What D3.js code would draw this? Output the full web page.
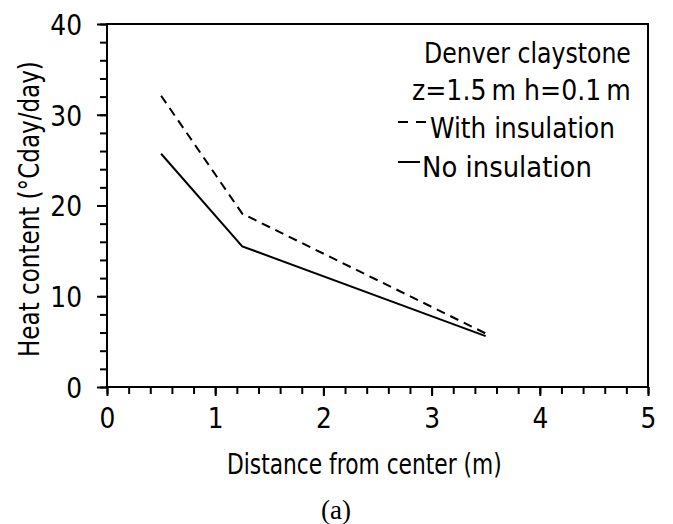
<!DOCTYPE html>
<html>
<head>
<meta charset="utf-8">
<script src="https://cdn.jsdelivr.net/npm/d3@7"></script>
<style>
  html, body { margin: 0; padding: 0; background: #fff; }
  svg text { font-family: "DejaVu Sans", sans-serif; fill: #000; }
  svg text.caption { font-family: "Liberation Serif", "Times New Roman", serif; }
</style>
</head>
<body>
<div id="chart"></div>
<script>
// x positions (m) and heat content (°Cday/day)
const distance = [0.5, 1.25, 3.5];
const withInsulation = [32.1, 19.1, 5.9];
const noInsulation = [25.7, 15.5, 5.6];
const xTicks = [0, 1, 2, 3, 4, 5];
const yTicks = [0, 10, 20, 30, 40];

const W = 673, H = 524;
const margin = { left: 107, right: 25, top: 24, bottom: 137 };
const FONT = 29;
const SQUEEZE = 0.86; // the original type is a narrow sans

const svg = d3.select('#chart').append('svg')
  .attr('width', W).attr('height', H);

svg.append('rect').attr('width', W).attr('height', H).attr('fill', '#fff');

const x = d3.scaleLinear().domain([0, 5]).range([margin.left, W - margin.right]);
const y = d3.scaleLinear().domain([0, 40]).range([H - margin.bottom, margin.top]);

// put a narrow text at (tx, ty), squeezed horizontally to width len
function narrowText(parent, str, tx, ty, len, rot) {
  const t = parent.append('text').attr('font-size', FONT).text(str);
  const k = len / t.node().getComputedTextLength();
  t.attr('transform', `translate(${tx},${ty})${rot ? ` rotate(${rot})` : ''} scale(${k},1)`);
  return t;
}

// ── Axes ──────────────────────────────────────────────
const xMinor = d3.range(0, 5.001, 0.2);
const yMinor = d3.range(0, 40.001, 2);

svg.append('g').attr('transform', `translate(0,${y(0)})`)
  .call(d3.axisBottom(x).tickValues(xMinor).tickSize(7).tickFormat(''))
  .call((g) => g.select('.domain').remove());
const xMaj = svg.append('g').attr('transform', `translate(0,${y(0)})`)
  .call(d3.axisBottom(x).tickValues(xTicks).tickSize(9).tickFormat(d3.format('d')));
xMaj.select('.domain').remove();
xMaj.selectAll('text')
  .attr('font-size', FONT).attr('y', null).attr('dy', null)
  .attr('transform', `translate(0,41) scale(${SQUEEZE},1)`);

svg.append('g').attr('transform', `translate(${x(0)},0)`)
  .call(d3.axisLeft(y).tickValues(yMinor).tickSize(7).tickFormat(''))
  .call((g) => g.select('.domain').remove());
const yMaj = svg.append('g').attr('transform', `translate(${x(0)},0)`)
  .call(d3.axisLeft(y).tickValues(yTicks).tickSize(10).tickFormat(d3.format('d')));
yMaj.select('.domain').remove();
yMaj.selectAll('text')
  .attr('font-size', FONT).attr('x', null).attr('dy', '0.36em')
  .attr('transform', `translate(-25,0) scale(${SQUEEZE},1)`);

svg.selectAll('.tick line').attr('stroke', '#000').attr('stroke-width', 2);

// frame
svg.append('rect')
  .attr('x', x(0)).attr('y', y(40))
  .attr('width', x(5) - x(0)).attr('height', y(0) - y(40))
  .attr('fill', 'none').attr('stroke', '#000').attr('stroke-width', 2);

// ── Lines ─────────────────────────────────────────────
const line = d3.line()
  .x((d) => x(d[0]))
  .y((d) => y(d[1]));

svg.append('path')
  .datum(d3.zip(distance, withInsulation))
  .attr('d', line)
  .attr('fill', 'none').attr('stroke', '#000').attr('stroke-width', 2)
  .attr('stroke-dasharray', '9 6');

svg.append('path')
  .datum(d3.zip(distance, noInsulation))
  .attr('d', line)
  .attr('fill', 'none').attr('stroke', '#000').attr('stroke-width', 2);

// ── Legend ────────────────────────────────────────────
const leg = svg.append('g');
narrowText(leg, 'Denver claystone', 424, 63, 207);
narrowText(leg, 'z=1.5\u2009m h=0.1\u2009m', 412, 100, 219);
leg.append('line').attr('x1', 398).attr('x2', 426).attr('y1', 122).attr('y2', 122)
  .attr('stroke', '#000').attr('stroke-width', 2).attr('stroke-dasharray', '10 8');
narrowText(leg, 'With insulation', 430, 138, 185);
leg.append('line').attr('x1', 398).attr('x2', 420).attr('y1', 162).attr('y2', 162)
  .attr('stroke', '#000').attr('stroke-width', 2);
narrowText(leg, 'No insulation', 422, 177, 170);

// ── Axis titles ───────────────────────────────────────
narrowText(svg, 'Distance from center (m)', 227, 474, 275);
narrowText(svg, 'Heat content (°Cday/day)', 39, 357, 296, -90);

svg.append('text').attr('class', 'caption')
  .attr('x', 336).attr('y', 519)
  .attr('text-anchor', 'middle').attr('font-size', 27)
  .text('(a)');
</script>
</body>
</html>
